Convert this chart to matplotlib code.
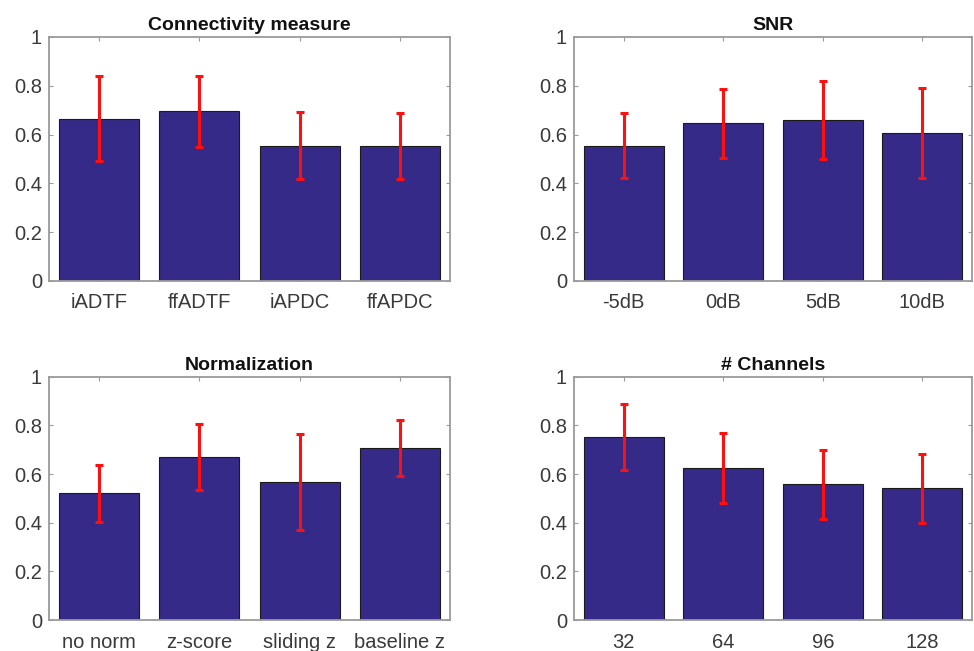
import matplotlib
matplotlib.use("Agg")
import numpy as np
from matplotlib import pyplot as plt

plt.rcParams['font.family'] = ['Liberation Sans', 'DejaVu Sans']

# panel data: labels, mean, error (half-width)
conn_labels = ["iADTF", "ffADTF", "iAPDC", "ffAPDC"]
conn_mean = [0.665, 0.696, 0.554, 0.553]
conn_err = [0.175, 0.146, 0.137, 0.137]

snr_labels = ["-5dB", "0dB", "5dB", "10dB"]
snr_mean = [0.555, 0.647, 0.658, 0.607]
snr_err = [0.134, 0.141, 0.160, 0.183]

norm_labels = ["no norm", "z-score", "sliding z", "baseline z"]
norm_mean = [0.521, 0.671, 0.568, 0.707]
norm_err = [0.117, 0.136, 0.197, 0.117]

chan_labels = ["32", "64", "96", "128"]
chan_mean = [0.751, 0.625, 0.558, 0.541]
chan_err = [0.136, 0.143, 0.142, 0.143]

BAR_COLOR = '#352a87'
SPINE_COLOR = '#9a9a9a'
TEXT_COLOR = '#3a3a3a'


def draw_panel(ax, title, labels, means, errs):
    x = np.arange(1, len(labels) + 1)
    ax.bar(x, means, width=0.8, color=BAR_COLOR, edgecolor='#1a1a1a', linewidth=0.8, zorder=2)
    ax.errorbar(x, means, yerr=errs, fmt='none', ecolor='#ff1010', elinewidth=2.2,
                capsize=3, capthick=2.2, zorder=3)
    ax.set_xlim(0.5, len(labels) + 0.5)
    ax.set_ylim(0, 1)
    ax.set_xticks(x)
    ax.set_xticklabels(labels)
    ax.set_yticks([0, 0.2, 0.4, 0.6, 0.8, 1])
    ax.set_yticklabels(["0", "0.2", "0.4", "0.6", "0.8", "1"])
    ax.tick_params(direction='in', top=True, right=True, length=3, width=0.8,
                   color=SPINE_COLOR, labelsize=14.5, labelcolor=TEXT_COLOR)
    ax.tick_params(axis='x', pad=9)
    ax.tick_params(axis='y', pad=5)
    for s in ax.spines.values():
        s.set_color(SPINE_COLOR)
        s.set_linewidth(1.3)
    ax.set_title(title, fontsize=14, fontweight='bold', color='#111111', pad=5)


fig = plt.figure(figsize=(9.74, 6.51), dpi=100)
ax1 = fig.add_axes([0.0503, 0.5684, 0.4117, 0.3748])
ax2 = fig.add_axes([0.5893, 0.5684, 0.4087, 0.3748])
ax3 = fig.add_axes([0.0503, 0.0476, 0.4117, 0.3737])
ax4 = fig.add_axes([0.5893, 0.0476, 0.4087, 0.3737])

draw_panel(ax1, "Connectivity measure", conn_labels, conn_mean, conn_err)
draw_panel(ax2, "SNR", snr_labels, snr_mean, snr_err)
draw_panel(ax3, "Normalization", norm_labels, norm_mean, norm_err)
draw_panel(ax4, "# Channels", chan_labels, chan_mean, chan_err)

fig.savefig("out.png", dpi=100)
